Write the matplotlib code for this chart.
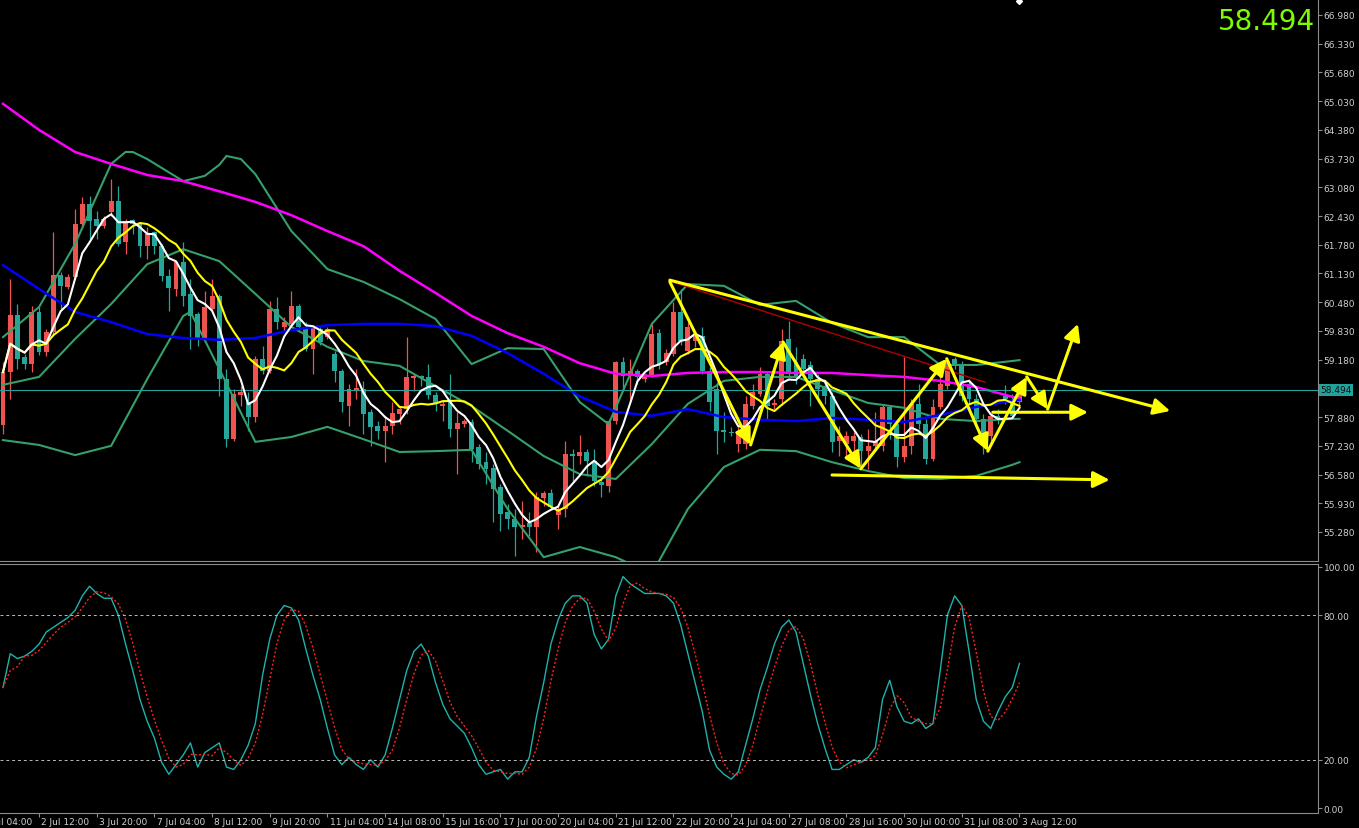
import numpy as np
import pandas as pd
import matplotlib
matplotlib.use("Agg")
import matplotlib.pyplot as plt
import matplotlib.transforms as mtransforms

# 4H candles (price units)
opens = [57.69, 58.90, 60.18, 59.24, 59.08, 60.26, 59.36, 59.81, 61.10, 60.82,
         61.05, 62.25, 62.70, 62.36, 62.20, 62.52, 62.77, 61.84, 62.34, 62.25,
         61.75, 62.07, 61.75, 61.07, 60.78, 61.39, 60.67, 60.21, 59.65, 60.33,
         60.62, 58.74, 57.38, 58.38, 58.22, 57.88, 59.20, 58.92, 60.33, 59.92,
         59.99, 60.39, 59.92, 59.42, 59.87, 59.69, 59.31, 58.92, 58.13, 58.47,
         58.52, 58.00, 57.68, 57.57, 57.68, 57.95, 58.06, 58.77, 58.81, 58.79,
         58.38, 58.13, 58.22, 57.61, 57.72, 57.77, 57.20, 56.86, 56.73, 56.30,
         55.73, 55.57, 55.39, 55.48, 55.39, 56.05, 56.16, 55.67, 55.80, 57.05,
         57.00, 57.09, 56.89, 56.41, 56.32, 57.79, 59.13, 58.81, 58.92, 58.74,
         58.81, 59.78, 59.13, 59.31, 60.26, 59.38, 59.60, 59.72, 58.92, 58.52,
         57.59, 57.54, 57.27, 57.27, 58.13, 58.40, 58.86, 58.15, 58.29, 59.65,
         59.13, 59.20, 59.06, 58.74, 58.58, 58.36, 57.34, 57.27, 57.34, 57.43,
         57.11, 57.23, 57.23, 58.11, 57.72, 56.98, 57.23, 58.18, 57.72, 56.93,
         58.11, 58.58, 59.20, 59.08, 58.63, 58.29, 57.84, 57.45, 57.91, 58.36,
         58.25, 58.22]
highs = [59.12, 61.01, 60.44, 59.31, 60.39, 60.39, 59.87, 62.07, 61.16, 61.12,
         62.59, 62.86, 62.88, 62.54, 62.43, 63.27, 63.11, 62.36, 62.36, 62.30,
         62.18, 62.09, 61.80, 61.23, 61.41, 61.84, 61.01, 60.26, 60.73, 61.01,
         60.67, 58.97, 58.52, 58.58, 58.45, 59.26, 59.49, 60.51, 60.60, 60.14,
         60.73, 60.44, 60.03, 59.97, 59.92, 59.92, 59.38, 58.97, 58.63, 58.97,
         58.70, 58.06, 57.79, 57.91, 58.22, 58.13, 59.69, 58.86, 58.83, 59.08,
         58.45, 58.25, 58.86, 58.00, 57.84, 57.84, 57.27, 57.09, 56.82, 56.37,
         55.91, 55.80, 55.98, 55.73, 56.19, 56.21, 56.25, 55.87, 57.34, 57.16,
         57.47, 57.16, 57.16, 56.48, 57.84, 59.15, 59.24, 59.20, 58.97, 58.88,
         59.99, 59.87, 59.42, 60.49, 60.78, 60.03, 59.83, 59.92, 59.02, 58.67,
         58.00, 57.66, 57.66, 58.35, 58.63, 59.02, 58.90, 58.29, 59.87, 60.06,
         59.47, 59.31, 59.15, 58.86, 58.67, 58.45, 57.68, 57.57, 57.54, 57.50,
         57.61, 57.99, 58.18, 58.13, 57.84, 59.24, 58.29, 58.63, 57.84, 58.29,
         58.86, 59.24, 59.24, 59.15, 58.74, 58.40, 57.95, 57.97, 58.06, 58.61,
         58.40, 58.61]
lows = [57.50, 58.29, 58.97, 58.97, 58.90, 59.29, 59.26, 59.72, 60.33, 60.78,
        61.01, 62.20, 61.91, 61.91, 62.16, 62.43, 61.75, 61.57, 62.02, 61.50,
        61.46, 61.57, 60.96, 60.28, 60.62, 60.39, 59.42, 59.49, 59.60, 60.28,
        58.36, 57.20, 57.34, 58.13, 57.57, 57.77, 58.86, 58.88, 59.87, 59.83,
        59.94, 59.83, 59.38, 58.86, 59.51, 59.65, 58.67, 58.00, 57.68, 58.29,
        57.50, 57.23, 57.38, 56.86, 57.50, 57.72, 57.95, 58.47, 58.58, 58.29,
        58.02, 57.79, 57.43, 56.59, 57.66, 56.86, 56.71, 56.37, 55.51, 55.30,
        55.35, 54.74, 55.12, 55.19, 54.83, 55.87, 55.80, 55.35, 55.62, 56.41,
        56.82, 56.55, 56.32, 56.07, 56.19, 57.72, 58.52, 58.29, 58.63, 58.67,
        58.79, 58.97, 59.06, 59.26, 59.51, 59.31, 59.47, 58.86, 58.02, 57.05,
        57.32, 57.45, 57.09, 57.16, 58.06, 58.35, 57.84, 58.06, 58.15, 58.79,
        58.63, 58.86, 58.13, 58.22, 58.18, 57.09, 57.00, 56.93, 57.00, 56.75,
        56.71, 57.16, 57.11, 57.38, 56.75, 56.86, 57.05, 57.61, 56.82, 56.89,
        58.06, 58.52, 58.97, 58.25, 58.18, 57.72, 57.05, 57.27, 57.72, 58.18,
        57.84, 58.13]
closes = [58.90, 60.18, 59.20, 59.08, 60.26, 59.36, 59.81, 61.10, 60.85, 61.05,
          62.25, 62.70, 62.32, 62.20, 62.36, 62.77, 61.80, 62.32, 62.25, 61.75,
          62.02, 61.75, 61.07, 60.80, 61.39, 60.62, 60.17, 59.65, 60.37, 60.62,
          58.74, 57.38, 58.40, 58.45, 57.88, 59.20, 58.92, 60.33, 60.03, 60.03,
          60.39, 59.92, 59.42, 59.92, 59.58, 59.87, 58.92, 58.22, 58.52, 58.54,
          57.95, 57.66, 57.57, 57.68, 57.97, 58.06, 58.79, 58.81, 58.77, 58.38,
          58.20, 58.18, 57.61, 57.75, 57.79, 57.16, 56.82, 56.71, 56.25, 55.69,
          55.57, 55.39, 55.44, 55.39, 56.07, 56.16, 55.85, 55.80, 57.05, 57.00,
          57.09, 56.89, 56.43, 56.34, 57.79, 59.13, 58.81, 58.92, 58.79, 58.81,
          59.76, 59.08, 59.33, 60.26, 59.60, 59.92, 59.72, 58.92, 58.22, 57.57,
          57.54, 57.52, 57.50, 58.18, 58.45, 58.86, 58.13, 58.20, 59.60, 58.86,
          58.81, 58.97, 58.74, 58.52, 58.36, 57.32, 57.45, 57.45, 57.45, 57.11,
          57.23, 57.34, 58.11, 57.72, 56.98, 57.23, 58.18, 57.72, 56.93, 58.11,
          58.63, 59.15, 59.08, 58.35, 58.29, 57.84, 57.32, 57.91, 57.84, 58.29,
          57.91, 58.494]

# long moving averages (bar index, price)
ma_idx = [0, 5, 10, 15, 20, 25, 30, 35, 40, 45, 50, 55, 60, 65, 70, 75, 80,
          85, 90, 95, 100, 105, 110, 115, 120, 125, 130, 135, 140, 141]
ma200 = [64.97, 64.38, 63.88, 63.61, 63.36, 63.22, 62.99, 62.75, 62.45, 62.09,
         61.75, 61.19, 60.69, 60.17, 59.78, 59.47, 59.10, 58.86, 58.81, 58.88,
         58.90, 58.90, 58.88, 58.88, 58.83, 58.79, 58.70, 58.56, 58.34, 58.29]
ma100 = [61.32, 60.78, 60.26, 60.03, 59.76, 59.67, 59.63, 59.67, 59.85, 59.96,
         59.99, 59.99, 59.94, 59.72, 59.33, 58.86, 58.35, 58.00, 57.91, 58.06,
         57.88, 57.82, 57.79, 57.86, 57.82, 57.77, 57.93, 58.11, 58.25, 58.27]

# Bollinger bands
bb_mid = [58.61, 58.79, 59.65, 60.44, 61.34, 61.68, 61.41, 60.67, 59.92, 59.47,
          59.15, 59.04, 58.58, 58.13, 57.57, 57.00, 56.59, 56.48, 57.27, 58.18,
          58.70, 58.79, 58.79, 58.49, 58.20, 58.09, 57.84, 57.79, 57.84, 57.84]
bb_up_idx = [0, 5, 10, 15, 17, 18, 20, 25, 28, 30, 31, 33, 35, 40, 45, 50, 55,
             60, 65, 70, 75, 80, 84, 86, 90, 95, 100, 105, 110, 115, 120, 125,
             130, 135, 140, 141]
bb_up = [59.69, 60.37, 61.80, 63.61, 63.88, 63.88, 63.72, 63.22, 63.34, 63.59,
         63.79, 63.72, 63.38, 62.09, 61.23, 60.94, 60.55, 60.10, 59.08, 59.44,
         59.42, 58.22, 57.72, 58.47, 59.99, 60.89, 60.85, 60.42, 60.51, 60.01,
         59.69, 59.69, 59.06, 59.06, 59.15, 59.17]
bb_lo_idx = [0, 5, 10, 15, 20, 25, 26, 27, 30, 35, 40, 45, 50, 55, 60, 65, 70,
             75, 80, 85, 90, 95, 100, 105, 110, 115, 120, 125, 130, 135, 140, 141]
bb_lo = [57.36, 57.25, 57.02, 57.23, 58.74, 60.17, 60.26, 59.94, 58.97, 57.32,
         57.43, 57.66, 57.38, 57.09, 57.11, 57.14, 55.80, 54.71, 54.94, 54.71,
         54.33, 55.80, 56.75, 57.14, 57.11, 56.86, 56.66, 56.50, 56.48, 56.55,
         56.80, 56.86]

# stochastic main line
stoch_k = [50, 64, 62, 63, 65, 68, 73, 75, 77, 79,
           82, 88, 92, 89, 87, 87, 80, 68, 57, 45,
           36, 29, 19, 14, 18, 22, 27, 17, 23, 25,
           27, 17, 16, 20, 26, 35, 55, 70, 80, 84,
           83, 78, 66, 55, 45, 33, 22, 18, 21, 18,
           16, 20, 17, 22, 33, 45, 57, 65, 68, 63,
           52, 43, 37, 34, 31, 25, 18, 14, 15, 16,
           12, 15, 15, 21, 38, 52, 68, 78, 85, 88,
           88, 85, 72, 66, 70, 88, 96, 93, 91, 89,
           89, 89, 88, 85, 76, 64, 52, 40, 24, 17,
           14, 12, 15, 26, 37, 49, 58, 68, 75, 78,
           73, 60, 47, 35, 25, 16, 16, 18, 20, 19,
           21, 25, 45, 53, 42, 36, 35, 37, 33, 35,
           57, 80, 88, 84, 65, 45, 36, 33, 40, 46,
           50, 60]

# hand drawn analysis (bar index, price)
zig_x = [92.5, 103.7, 108.2, 119.0, 130.9, 136.6, 142.0, 144.9, 149.1]
zig_y = [60.94, 57.25, 59.58, 56.71, 59.20, 57.11, 58.79, 58.06, 59.99]
trend_x = [92.5, 161.9]
trend_y = [60.98, 58.02]
mid_x = [137.3, 150.5]
mid_y = [57.99, 57.99]
low_x = [115.0, 153.5]
low_y = [56.57, 56.46]
red_x = [92.8, 136.2]
red_y = [60.94, 58.67]

tick_labels = ["1 Jul 04:00", "2 Jul 12:00", "3 Jul 20:00", "7 Jul 04:00", "8 Jul 12:00",
               "9 Jul 20:00", "11 Jul 04:00", "14 Jul 08:00", "15 Jul 16:00", "17 Jul 00:00",
               "20 Jul 04:00", "21 Jul 12:00", "22 Jul 20:00", "24 Jul 04:00", "27 Jul 08:00",
               "28 Jul 16:00", "30 Jul 00:00", "31 Jul 08:00", "3 Aug 12:00"]
last_price = 58.494

# ---------------------------------------------------------------
o = np.array(opens); h = np.array(highs); l = np.array(lows); c = np.array(closes)
x = np.arange(len(c))
ma_fast = pd.Series(c).rolling(5, min_periods=1).mean()
ma_slow = pd.Series(c).rolling(10, min_periods=1).mean()
stoch_d = pd.Series(stoch_k, dtype=float).rolling(3, min_periods=1).mean()

grey = "#8c8c8c"
txt = "#d0d0d0"
up_col = "#ef5350"
dn_col = "#26a69a"
bb_col = "#35a06b"

fig = plt.figure(figsize=(13.59, 8.29), dpi=100, facecolor="black")
ax = fig.add_axes([0, 0.3221, 0.9698, 0.6779], facecolor="black")
axs = fig.add_axes([0, 0.0181, 0.9698, 0.3004], facecolor="black")

xlim = (-0.416, 182.4)

# candles
cols = np.where(c >= o, up_col, dn_col)
ax.vlines(x, l, h, colors=cols, lw=0.9, zorder=2)
body_lo = np.minimum(o, c)
body_h = np.maximum(np.abs(c - o), 0.03)
ax.bar(x, body_h, bottom=body_lo, width=0.68, color=cols, zorder=2)

# indicators
ax.plot(bb_up_idx, bb_up, color=bb_col, lw=1.5, zorder=3)
ax.plot(ma_idx, bb_mid, color=bb_col, lw=1.5, zorder=3)
ax.plot(bb_lo_idx, bb_lo, color=bb_col, lw=1.5, zorder=3)
ax.plot(ma_idx, ma200, color="#ff00ff", lw=1.8, zorder=3)
ax.plot(ma_idx, ma100, color="#0000ff", lw=1.8, zorder=3)
ax.plot(x, ma_slow, color="#ffff00", lw=1.5, zorder=4)
ax.plot(x, ma_fast, color="white", lw=1.5, zorder=4)

ax.axhline(last_price, color="#20a39a", lw=0.8, zorder=3)

# drawings
ax.plot(red_x, red_y, color="#b00000", lw=1.0, zorder=5)
ylw = "#ffff00"
arrow = dict(arrowstyle="-|>,head_length=0.9,head_width=0.45", color=ylw, lw=2.2,
             shrinkA=0, shrinkB=0, mutation_scale=11)
for k in range(len(zig_x) - 1):
    ax.annotate("", xy=(zig_x[k + 1], zig_y[k + 1]), xytext=(zig_x[k], zig_y[k]),
                arrowprops=arrow, zorder=6)
for xs, ys in [(trend_x, trend_y), (mid_x, mid_y), (low_x, low_y)]:
    ax.annotate("", xy=(xs[1], ys[1]), xytext=(xs[0], ys[0]), arrowprops=arrow, zorder=6)

ax.set_xlim(*xlim)
ax.set_ylim(54.624, 67.342)
price_ticks = np.round(55.28 + 0.65 * np.arange(19), 3)
# the scale label next to the last price is hidden by the price box
price_ticks = [v for v in price_ticks if abs(v - last_price) > 0.2]
ax.yaxis.tick_right()
ax.set_yticks(price_ticks)
ax.set_yticklabels([f"{v:.3f}" for v in price_ticks])
ax.tick_params(axis="y", colors=grey, labelcolor=txt, labelsize=6.5, length=3, width=0.8, pad=1)
ax.set_xticks([])
for side in ["left", "top"]:
    ax.spines[side].set_visible(False)
for side in ["right", "bottom"]:
    ax.spines[side].set_color(grey)

# current price box
tr = mtransforms.blended_transform_factory(ax.transAxes, ax.transData)
ax.text(1.0015, last_price, f"{last_price:.3f}", transform=tr, fontsize=6.5, color="#101010",
        va="center", ha="left", bbox=dict(boxstyle="square,pad=0.15", fc="#20a39a", ec="none"),
        clip_on=False, zorder=7)
ax.text(0.998, 0.985, f"{last_price:.3f}", transform=ax.transAxes, fontsize=20,
        color="#7cfc00", ha="right", va="top", zorder=7)
ax.plot([141], [67.3], marker="D", color="white", ms=3, clip_on=True, zorder=7)

# stochastic
axs.plot(x, stoch_k, color="#20b2aa", lw=1.0)
axs.plot(x, stoch_d, color="#ff2020", lw=1.0, ls=(0, (1.5, 1.5)))
for lev in (80, 20):
    axs.axhline(lev, color="#bbbbbb", lw=0.7, ls=(0, (3, 3)))
axs.set_xlim(*xlim)
axs.set_ylim(-2.07, 101.24)
axs.yaxis.tick_right()
axs.set_yticks([0, 20, 80, 100])
axs.set_yticklabels(["0.00", "20.00", "80.00", "100.00"])
axs.tick_params(axis="y", colors=grey, labelcolor=txt, labelsize=6.5, length=3, width=0.8, pad=1)
tick_pos = [8 * k - 3 for k in range(len(tick_labels))]
axs.set_xticks([p for p in tick_pos if p >= 0])
axs.set_xticklabels([])
axs.tick_params(axis="x", colors=grey, length=3, width=0.8)
trx = mtransforms.blended_transform_factory(axs.transData, axs.transAxes)
for p, lab in zip(tick_pos, tick_labels):
    axs.text(p + 0.3, -0.033, lab, transform=trx, fontsize=6.5, color=txt,
             ha="left", va="center", clip_on=False)
axs.spines["left"].set_visible(False)
for side in ["right", "bottom", "top"]:
    axs.spines[side].set_color(grey)

fig.savefig("out.png", dpi=100, facecolor="black")
